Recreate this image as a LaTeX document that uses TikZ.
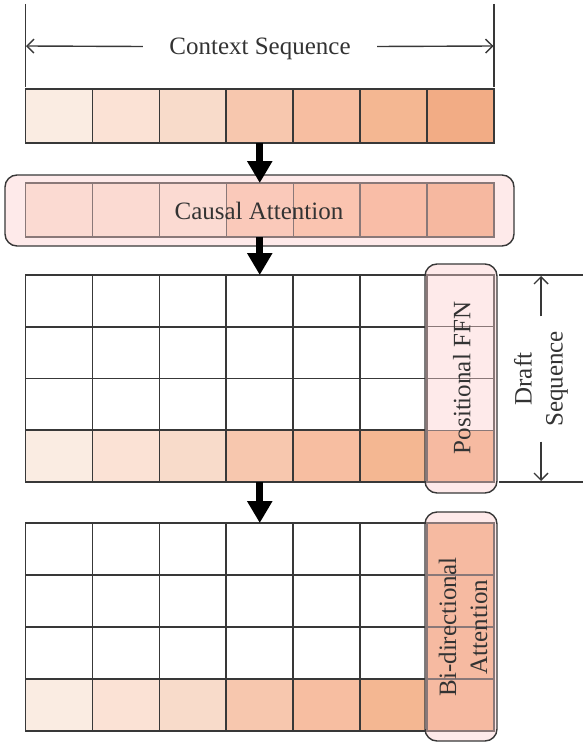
\documentclass[tikz,border=0pt]{standalone}
\usepackage{fontspec}
\setmainfont{Liberation Serif}
\usetikzlibrary{arrows.meta}
\definecolor{lineC}{HTML}{383838}
\definecolor{txtC}{HTML}{333333}
\definecolor{cA}{HTML}{FAECE2}
\definecolor{cB}{HTML}{FBE2D5}
\definecolor{cC}{HTML}{F8DBCA}
\definecolor{cD}{HTML}{F7C7AE}
\definecolor{cE}{HTML}{F7BEA1}
\definecolor{cF}{HTML}{F4B792}
\definecolor{cG}{HTML}{F2AC85}
\definecolor{pA}{HTML}{FBDAD2}
\definecolor{pD}{HTML}{FAC9BA}
\definecolor{pE}{HTML}{FAC4B0}
\definecolor{pF}{HTML}{F9BDA7}
\definecolor{pG}{HTML}{F6B8A0}
\definecolor{boxP}{HTML}{FEEAEA}
\definecolor{colO}{HTML}{F6BAA1}
\definecolor{greyL}{HTML}{8A7878}
\begin{document}
\begin{tikzpicture}[x=1bp,y=-1bp,
  cell/.style={draw=lineC, line width=1.6bp, minimum width=66.93bp, minimum height=#1, inner sep=0pt, outer sep=0pt, anchor=north west},
  softcell/.style={cell=#1, draw=greyL, line width=1.4bp},
  rbox/.style={draw=lineC, fill=boxP, rounded corners=12bp, line width=1.4bp, inner sep=0pt, outer sep=0pt, anchor=north west},
  txt/.style={font=\fontsize{25bp}{31bp}\selectfont, text=txtC, inner sep=0pt},
  oneline/.style={txt, text height=16.5bp, text depth=0bp},
  dimline/.style={draw=lineC, line width=1.4bp},
  dimarrow/.style={dimline, -{Straight Barb[length=7bp,width=14bp]}},
  bigarrow/.style={draw=black, line width=7bp, -{Triangle[length=22bp,width=24bp]}}
]
\useasboundingbox (0,0) rectangle (586,746);

% ---- context sequence dimension
\coordinate (vlA1) at (25.5,4);  \coordinate (vlA2) at (25.5,87);
\coordinate (vlB1) at (494,4);   \coordinate (vlB2) at (494,87);
\coordinate (ctxL) at (26,46);   \coordinate (ctxR) at (493.5,46);
\draw[dimline] (vlA1) -- (vlA2);
\draw[dimline] (vlB1) -- (vlB2);
\node[oneline, minimum width=234bp] (ctxt) at (260,46.5) {Context Sequence};
\draw[dimarrow] (ctxt.west) -- (ctxL);
\draw[dimarrow] (ctxt.east) -- (ctxR);

% ---- context row
\foreach \c/\clr in {1/cA,2/cB,3/cC,4/cD,5/cE,6/cF,7/cG}
  \node[cell=54bp, fill=\clr] (ctx-\c) at ({25.5+66.93*(\c-1)},89) {};

% ---- causal attention
\node[rbox, minimum width=509bp, minimum height=71bp] (cbox) at (5,175) {};
\foreach \c/\clr in {1/pA,2/pA,3/pA,4/pD,5/pE,6/pF,7/pG}
  \node[softcell=54bp, fill=\clr] (ca-\c) at ({25.5+66.93*(\c-1)},183) {};
\node[oneline] (catt) at (259,211) {Causal Attention};

% ---- grid 1
\foreach \r in {1,2,3}
  \foreach \c in {1,...,6}
    \node[cell=51.75bp, fill=white] (ga-\r-\c) at ({25.5+66.93*(\c-1)},{275+51.75*(\r-1)}) {};
\foreach \c/\clr in {1/cA,2/cB,3/cC,4/cD,5/cE,6/cF}
  \node[cell=51.75bp, fill=\clr] (ga-4-\c) at ({25.5+66.93*(\c-1)},{275+51.75*3}) {};
\node[rbox, minimum width=72bp, minimum height=229bp] (ffnbox) at (425,264) {};
\foreach \r in {1,2,3}
  \node[softcell=51.75bp, fill=boxP] (ga-\r-7) at ({25.5+66.93*6},{275+51.75*(\r-1)}) {};
\node[softcell=51.75bp, fill=colO] (ga-4-7) at ({25.5+66.93*6},{275+51.75*3}) {};
\node[oneline, rotate=90] (ffn) at (462,378) {Positional FFN};

% ---- draft sequence dimension
\coordinate (dA1) at (499,275); \coordinate (dA2) at (583,275);
\coordinate (dB1) at (499,482); \coordinate (dB2) at (583,482);
\coordinate (dTop) at (541,276); \coordinate (dBot) at (541,481);
\draw[dimline] (dA1) -- (dA2);
\draw[dimline] (dB1) -- (dB2);
\node[txt, rotate=90, align=center, minimum width=125bp] (draft) at (541,379) {Draft\\Sequence};
\draw[dimarrow] (draft.east) -- (dTop);
\draw[dimarrow] (draft.west) -- (dBot);

% ---- grid 2
\foreach \r in {1,2,3}
  \foreach \c in {1,...,6}
    \node[cell=52bp, fill=white] (gb-\r-\c) at ({25.5+66.93*(\c-1)},{523+52*(\r-1)}) {};
\foreach \c/\clr in {1/cA,2/cB,3/cC,4/cD,5/cE,6/cF}
  \node[cell=52bp, fill=\clr] (gb-4-\c) at ({25.5+66.93*(\c-1)},{523+52*3}) {};
\node[rbox, minimum width=72bp, minimum height=229bp] (bibox) at (425,512) {};
\foreach \r in {1,2,3,4}
  \node[softcell=52bp, fill=colO] (gb-\r-7) at ({25.5+66.93*6},{523+52*(\r-1)}) {};
\node[txt, rotate=90, align=center] (bidir) at (463,627) {Bi-directional\\Attention};

% ---- big arrows
\draw[bigarrow] (ctx-4.south) -- (ca-4.north);
\draw[bigarrow] (ca-4.south) -- (ga-1-4.north);
\draw[bigarrow] (ga-4-4.south) -- (gb-1-4.north);
\end{tikzpicture}
\end{document}
